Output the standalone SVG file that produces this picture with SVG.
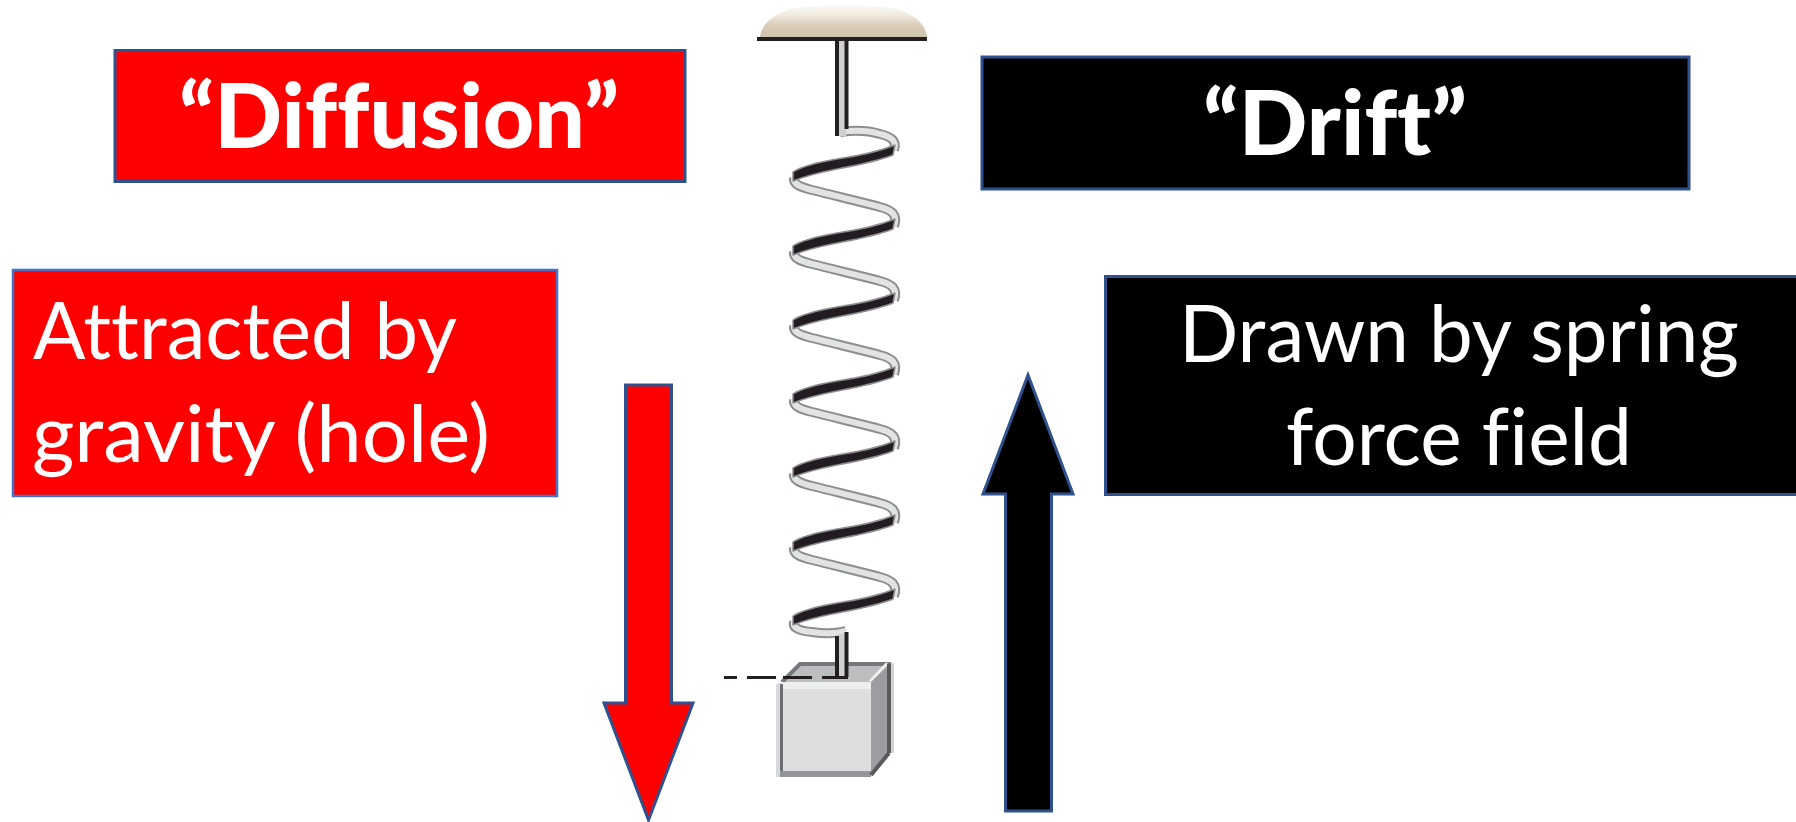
<svg xmlns="http://www.w3.org/2000/svg" xmlns:xlink="http://www.w3.org/1999/xlink" width="1796" height="822" viewBox="0 0 1796 822">
  <style>
    .box { stroke: #2f528f; stroke-width: 3; }
    .red { fill: #ff0000; }
    .black { fill: #000000; }
    text { fill: #ffffff; font-family: "Lato", "Open Sans", "Liberation Sans", sans-serif; font-variant-ligatures: none; }
    .head { font-size: 90px; font-weight: 900; }
    .body { font-size: 79px; font-weight: 400; }
    .band-edge { fill: none; stroke: #8c8d8f; stroke-width: 10; }
    .band-fill { fill: none; stroke: #e2e3e3; stroke-width: 6; }
    .strand { fill: #231f20; stroke: #8e8e8e; stroke-width: 1.500; stroke-linejoin: round; }
  </style>
  <defs>
    <linearGradient id="dome" x1="0" y1="0" x2="0" y2="1">
      <stop offset="0" stop-color="#fdfcfa"/>
      <stop offset="0.35" stop-color="#f0e9dd"/>
      <stop offset="0.65" stop-color="#d8ccb6"/>
      <stop offset="1" stop-color="#d0c3ab"/>
    </linearGradient>
    <filter id="soft" x="-5%" y="-5%" width="110%" height="110%">
      <feGaussianBlur stdDeviation="0.7"/>
    </filter>
    <!-- one full turn of the coil: pale back strand, then dark front strand -->
    <g id="turn">
      <path class="band-edge" d="M794 178C793 184 800 187 812 190C840 197 862 202 880 207C892 210 898 215 894 226"/>
      <path class="band-fill" d="M794 178C793 184 800 187 812 190C840 197 862 202 880 207C892 210 898 215 894 226"/>
      <path class="strand" d="M895 145L893 155C875 162 858 165 837 169C822 172 808 175 793 181L793 172C802 166 820 162 837 159C858 156 875 153 895 145Z"/>
    </g>
  </defs>

  <rect width="1796" height="822" fill="#ffffff"/>

  <g id="mount">
    <path d="M760 37C761 26 770 15 792 9C820 3 868 3 896 9C917 15 926 26 927 37Z" fill="url(#dome)"/>
    <rect x="757" y="37" width="170" height="4" fill="#231f20"/>
  </g>

  <g id="spring">
    <g filter="url(#soft)">
      <path class="band-edge" d="M840 132C855 130 870 131 880 134C892 137 897 141 894 150"/>
      <path class="band-fill" d="M840 132C855 130 870 131 880 134C892 137 897 141 894 150"/>
      <use xlink:href="#turn" href="#turn"/>
      <use xlink:href="#turn" href="#turn" y="74"/>
      <use xlink:href="#turn" href="#turn" y="148"/>
      <use xlink:href="#turn" href="#turn" y="222"/>
      <use xlink:href="#turn" href="#turn" y="296"/>
      <use xlink:href="#turn" href="#turn" y="370"/>
      <path class="band-edge" d="M794 622C792 628 800 631 812 632C825 634 835 634 846 631"/>
      <path class="band-fill" d="M794 622C792 628 800 631 812 632C825 634 835 634 846 631"/>
      <path class="strand" d="M895 589L893 599C875 606 858 609 837 613C822 616 808 619 793 625L793 616C802 610 820 606 837 603C858 600 875 597 895 589Z"/>
    </g>
    <rect x="837" y="41" width="9" height="95" fill="#cfd0d2"/>
    <path d="M837 41V136M846.500 41V129" fill="none" stroke="#231f20" stroke-width="4"/>
  </g>

  <g id="weight">
    <polygon points="782,682 800,663 891,663 871,682" fill="#bcbec0"/>
    <path d="M782 682L800 664H891" fill="none" stroke="#77787b" stroke-width="4"/>
    <path d="M871 682L888 664" stroke="#f1f2f2" stroke-width="5"/>
    <polygon points="871,682 889,664 889,752 871,773" fill="#9b9da0"/>
    <rect x="778" y="683" width="93" height="94" fill="#dcddde"/>
    <rect x="781" y="682" width="90" height="7" fill="#eeeff0"/>
    <rect x="776" y="684" width="4" height="93" fill="#d8d9da"/>
    <rect x="780" y="684" width="3" height="90" fill="#6d6e71"/>
    <rect x="780" y="771" width="91" height="6" fill="#939598"/>
    <rect x="887" y="664" width="4" height="89" fill="#58595b"/>
    <rect x="891" y="663" width="3" height="90" fill="#d1d3d4"/>
    <path d="M871 775L889 753" fill="none" stroke="#58595b" stroke-width="4"/>
    <rect x="837" y="634" width="9" height="43" fill="#cfd0d2"/>
    <path d="M837 636V677M846.500 632V677" fill="none" stroke="#231f20" stroke-width="4"/>
    <path d="M724 677.500H848" fill="none" stroke="#231f20" stroke-width="3" stroke-dasharray="13 10 29 7 29 10 26"/>
  </g>

  <g id="diffusion-title">
    <rect class="box red" x="115" y="50.500" width="570" height="131"/>
    <text class="head" x="179" y="148" textLength="440" lengthAdjust="spacingAndGlyphs">“Diffusion”</text>
  </g>

  <g id="drift-title">
    <rect class="box black" x="982" y="57" width="707" height="132"/>
    <text class="head" x="1203" y="155" textLength="264" lengthAdjust="spacingAndGlyphs">“Drift”</text>
  </g>

  <g id="gravity-note">
    <rect class="red" x="13" y="270" width="544" height="226" stroke="#4472c4" stroke-width="2.500"/>
    <text class="body" x="33" y="359" textLength="424" lengthAdjust="spacingAndGlyphs">Attracted by</text>
    <text class="body" x="32" y="462" textLength="458" lengthAdjust="spacingAndGlyphs">gravity (hole)</text>
  </g>

  <g id="spring-note">
    <rect class="box black" x="1105.500" y="276.500" width="700" height="218"/>
    <text class="body" x="1179" y="362" textLength="560" lengthAdjust="spacingAndGlyphs">Drawn by spring</text>
    <text class="body" x="1286" y="465" textLength="346" lengthAdjust="spacingAndGlyphs">force field</text>
  </g>

  <g id="connectors">
    <polygon class="box red" points="625.500,385 671.500,385 671.500,703 693,703 648.500,820 604,703 625.500,703"/>
    <polygon class="box black" points="1005.500,811 1051.500,811 1051.500,494 1073,494 1028,375 983,494 1005.500,494"/>
  </g>
</svg>
